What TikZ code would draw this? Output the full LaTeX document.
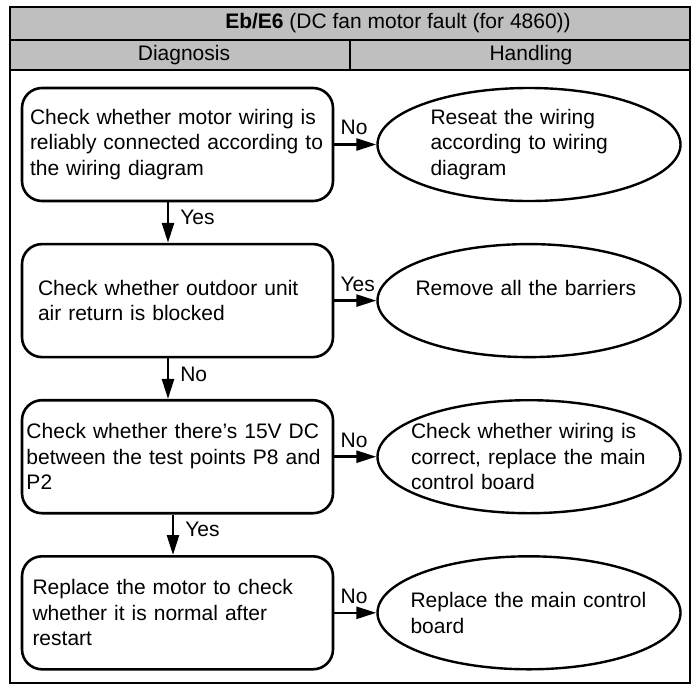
\documentclass[tikz,border=0pt]{standalone}
\usepackage{fontspec}
\setmainfont{Liberation Sans}
\usepackage{xcolor}
\usetikzlibrary{shapes.geometric,arrows.meta,positioning}
\definecolor{headgray}{RGB}{191,191,191}
\newcommand{\boxfont}{\fontsize{21}{25.5}\selectfont}

\begin{document}
\begin{tikzpicture}[
    x=1pt, y=-1pt,
    check/.style={rectangle, draw, rounded corners=20pt, line width=2.6pt, minimum width=311pt, minimum height=113pt, text width=290pt, inner xsep=0pt, align=left, font=\boxfont},
    handle/.style={ellipse, draw, line width=2.4pt, minimum width=303pt, minimum height=113pt, inner xsep=-14pt, inner ysep=0pt, align=left, font=\boxfont},
    arrow/.style={-{Triangle[length=20pt,width=12pt]}, line width=2.6pt},
    hlabel/.style={anchor=south west, inner xsep=5pt, inner ysep=8pt, font=\boxfont},
    vlabel/.style={anchor=west, inner xsep=11pt, inner ysep=0pt, font=\boxfont}
]
    \useasboundingbox (0,0) rectangle (696,686);

    % Table head
    \draw[line width=2.4pt, fill=headgray] (10,7) rectangle (690,70);
    \draw[line width=2.4pt] (10,40) -- (690,40) (350,40) -- (350,70);
    \draw[line width=2.6pt] (10,7) rectangle (690,683);
    \node[font=\boxfont] (title) at (398,23.5) {\textbf{Eb/E6} (DC fan motor fault (for 4860))};
    \node[font=\boxfont] (diag) at (184,55) {Diagnosis};
    \node[font=\boxfont] (hand) at (531,55) {Handling};

    % Diagnosis
    \node[check, text width=295pt] (wiring) at (177.5,144.5) {Check whether motor wiring is\\reliably connected according to\\the wiring diagram};
    \node[check, text width=279pt, below=40.5pt of wiring] (airret) {Check whether outdoor unit\\air return is blocked};
    \node[check, text width=302pt, below=40.5pt of airret] (volt) {Check whether there’s 15V DC\\between the test points P8 and\\P2};
    \node[check, below=40.5pt of volt] (motor) {Replace the motor to check\\whether it is normal after\\restart};

    % Handling
    \node[handle, text width=197pt, right=42pt of wiring] (reseat) {Reseat the wiring\\according to wiring\\diagram};
    \node[handle, text width=227pt, right=42pt of airret] (barrier) {Remove all the barriers\\\mbox{}};
    \node[handle, text width=236pt, right=42pt of volt] (board) {Check whether wiring is\\correct, replace the main\\control board};
    \node[handle, text width=237pt, right=42pt of motor] (replace) {Replace the main control\\board};

    % Edges
    \draw[arrow] (wiring) -- node[hlabel, pos=0] (l1) {No} (reseat);
    \draw[arrow] (airret) -- node[hlabel, pos=0] (l2) {Yes} (barrier);
    \draw[arrow] (volt) -- node[hlabel, pos=0] (l3) {No} (board);
    \draw[arrow] (motor) -- node[hlabel, pos=0] (l4) {No} (replace);
    \draw[arrow] ([xshift=-9.5pt]wiring.south) -- node[vlabel, pos=0.38] (l5) {Yes} ([xshift=-9.5pt]airret.north);
    \draw[arrow] ([xshift=-9.5pt]airret.south) -- node[vlabel, pos=0.4] (l6) {No} ([xshift=-9.5pt]volt.north);
    \draw[arrow] ([xshift=-4.5pt]volt.south) -- node[vlabel, pos=0.36] (l7) {Yes} ([xshift=-4.5pt]motor.north);
\end{tikzpicture}
\end{document}
